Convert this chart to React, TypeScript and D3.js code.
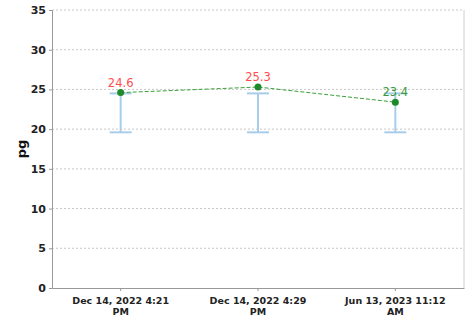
import React, { useEffect, useRef } from 'react';
import * as d3 from 'd3';

const categories = ['Dec 14, 2022 4:21 PM', 'Dec 14, 2022 4:29 PM', 'Jun 13, 2023 11:12 AM'];
const labelLines = [['Dec 14, 2022 4:21', 'PM'], ['Dec 14, 2022 4:29', 'PM'], ['Jun 13, 2023 11:12', 'AM']];
const values = [24.6, 25.3, 23.4];
const rangeLow = [19.6, 19.6, 19.6];
const rangeHigh = [24.5, 24.5, 24.5];
const labelColors = ['#ff4d4d', '#ff4d4d', '#3a9a3a'];
const yTicks = [0, 5, 10, 15, 20, 25, 30, 35];

const App = () => {
  const svgRef = useRef<SVGSVGElement>(null);

  useEffect(() => {
    const svg = d3.select(svgRef.current);
    svg.selectAll('*').remove();

    const W = 472, H = 316;
    const margin = { top: 10, right: 8, bottom: 28, left: 52 };
    const width = W - margin.left - margin.right;
    const height = H - margin.top - margin.bottom;
    const font = 'DejaVu Sans, sans-serif';

    svg.attr('width', W).attr('height', H);
    const g = svg.append('g').attr('transform', `translate(${margin.left},${margin.top})`);

    const x = d3.scaleBand().domain(categories).range([0, width]);
    const y = d3.scaleLinear().domain([0, 35]).range([height, 0]);
    const cx = (i: number) => (x(categories[i]) as number) + x.bandwidth() / 2;

    // grid
    g.selectAll('.grid')
      .data(yTicks.filter(t => t > 0))
      .enter().append('line')
      .attr('x1', 0).attr('x2', width)
      .attr('y1', d => y(d)).attr('y2', d => y(d))
      .attr('stroke', '#c8c8c8')
      .attr('stroke-dasharray', '2,2');

    // right border
    g.append('line')
      .attr('x1', width).attr('x2', width).attr('y1', 0).attr('y2', height)
      .attr('stroke', '#d0d0d0');

    // y axis
    const yAxis = g.append('g').call(d3.axisLeft(y).tickValues(yTicks).tickSize(3).tickPadding(3));
    yAxis.selectAll('text')
      .style('font-family', font).style('font-size', '11px').style('font-weight', 'bold').style('fill', '#222');
    yAxis.selectAll('.domain, .tick line').style('stroke', '#999');

    // x axis
    const xAxis = g.append('g').attr('transform', `translate(0,${height})`)
      .call(d3.axisBottom(x).tickSize(3).tickSizeOuter(0).tickFormat(() => ''));
    xAxis.selectAll('.domain, .tick line').style('stroke', '#999');
    xAxis.selectAll('.tick').each(function (_d, i) {
      const t = d3.select(this).append('text')
        .attr('text-anchor', 'middle')
        .style('font-family', font).style('font-size', '9.5px').style('font-weight', 'bold').style('fill', '#222');
      labelLines[i].forEach((s, k) => {
        t.append('tspan').attr('x', 0).attr('y', 16 + k * 11).text(s);
      });
    });

    // y label
    g.append('text')
      .attr('transform', `translate(${-26},${height / 2}) rotate(-90)`)
      .attr('text-anchor', 'middle')
      .style('font-family', font).style('font-size', '13px').style('font-weight', 'bold').style('fill', '#111')
      .text('pg');

    // error bars
    const capW = 11;
    const eb = g.selectAll('.eb').data(categories).enter().append('g')
      .attr('stroke', '#a8cdea').attr('stroke-width', 2);
    eb.append('line')
      .attr('x1', (_d, i) => cx(i)).attr('x2', (_d, i) => cx(i))
      .attr('y1', (_d, i) => y(rangeLow[i])).attr('y2', (_d, i) => y(rangeHigh[i]));
    eb.append('line')
      .attr('x1', (_d, i) => cx(i) - capW).attr('x2', (_d, i) => cx(i) + capW)
      .attr('y1', (_d, i) => y(rangeLow[i])).attr('y2', (_d, i) => y(rangeLow[i]));
    eb.append('line')
      .attr('x1', (_d, i) => cx(i) - capW).attr('x2', (_d, i) => cx(i) + capW)
      .attr('y1', (_d, i) => y(rangeHigh[i])).attr('y2', (_d, i) => y(rangeHigh[i]));

    // line
    const line = d3.line<number>().x((_d, i) => cx(i)).y(d => y(d));
    g.append('path').datum(values)
      .attr('fill', 'none').attr('stroke', '#3aa03a').attr('stroke-width', 1)
      .attr('stroke-dasharray', '4,2').attr('d', line);

    g.selectAll('.dot').data(values).enter().append('circle')
      .attr('cx', (_d, i) => cx(i)).attr('cy', d => y(d)).attr('r', 3.5)
      .attr('fill', '#1f8a2a');

    g.selectAll('.vl').data(values).enter().append('text')
      .attr('x', (_d, i) => cx(i)).attr('y', d => y(d) - 6)
      .attr('text-anchor', 'middle')
      .style('font-family', font).style('font-size', '11.5px')
      .style('fill', (_d, i) => labelColors[i])
      .text(d => d.toFixed(1));
  }, []);

  return <svg ref={svgRef} style={{ position: 'absolute', left: 0, top: 0 }}></svg>;
};

export default App;
